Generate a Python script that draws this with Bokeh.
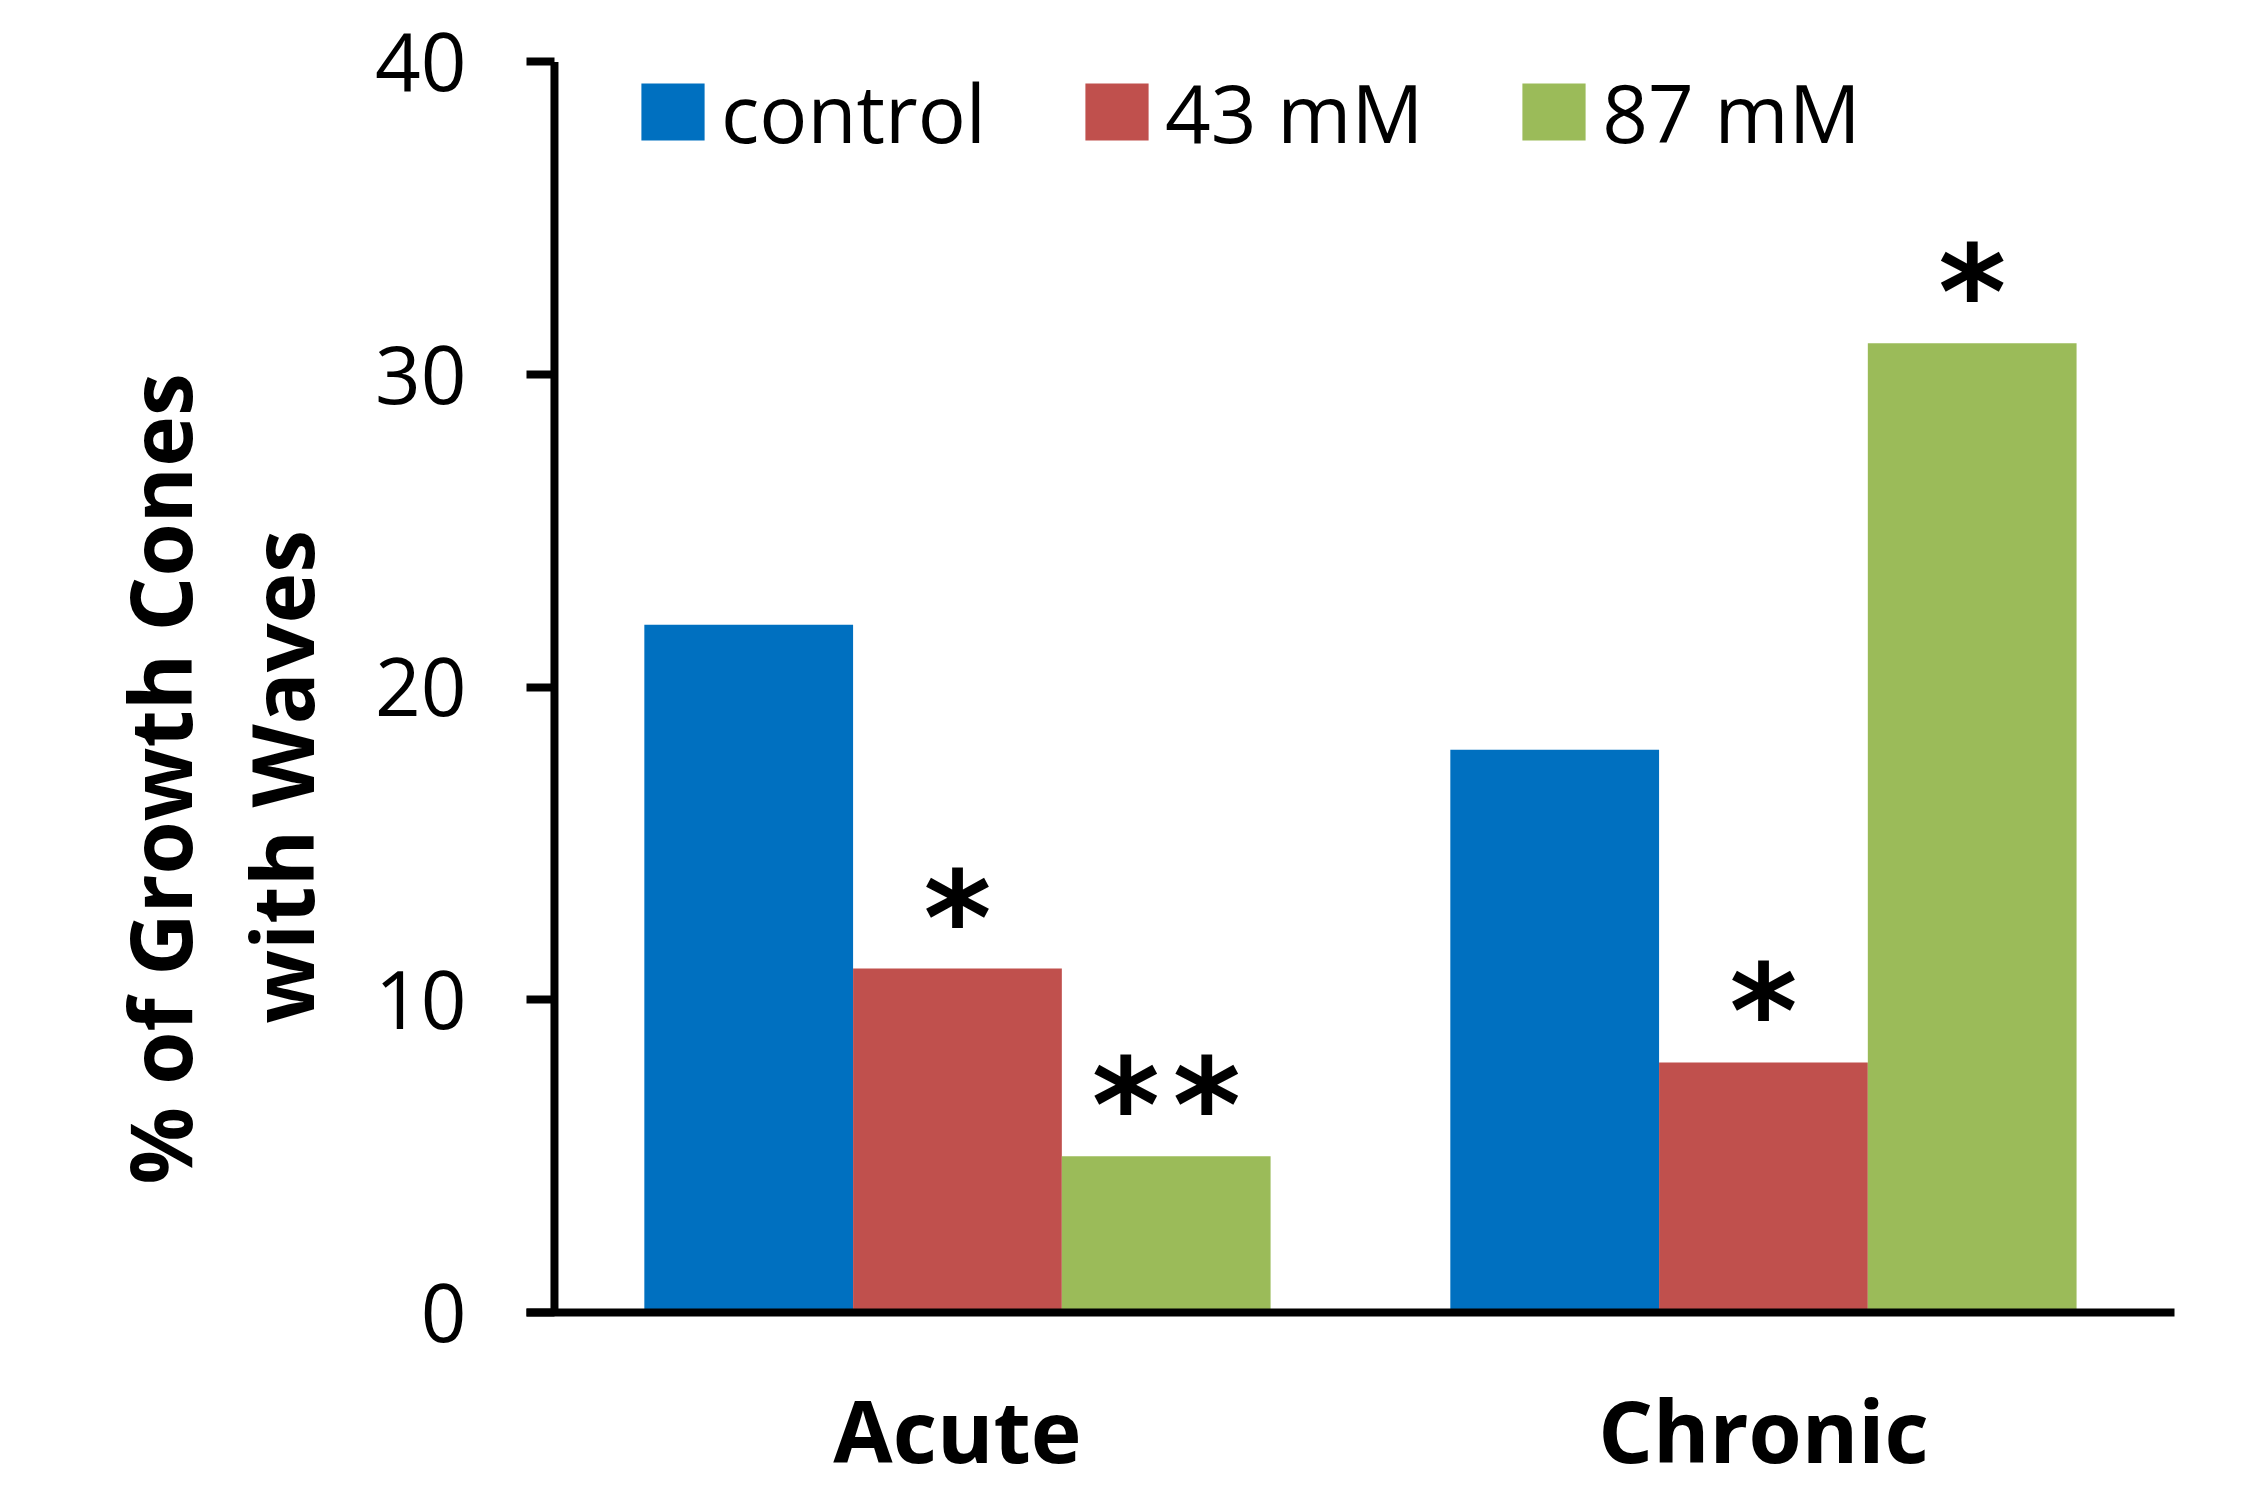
import numpy as np
from bokeh.plotting import figure
from bokeh.models import (Range1d, FixedTicker, Title, Legend, LegendItem,
                          ColumnDataSource)
from bokeh.core.properties import value
from bokeh.embed import file_html
from bokeh.resources import INLINE

# ---- data ----
categories = ["Acute", "Chronic"]
series = ["control", "43 mM", "87 mM"]
control = [22, 18]
mm43 = [11, 8]
mm87 = [5, 31]
marks_control = ["", ""]
marks_43 = ["*", "*"]
marks_87 = ["**", "*"]
y_ticks = [0, 10, 20, 30, 40]
y_title = ["% of Growth Cones", "with Waves"]
colors = ["#0070C0", "#C0504D", "#9BBB59"]

values = [control, mm43, mm87]
marks = [marks_control, marks_43, marks_87]

FONT = "Open Sans"
W, H = 2227, 1490
p = figure(width=W, height=H, output_backend="svg", toolbar_location=None,
           x_range=Range1d(-0.0347, 2.01), y_range=Range1d(0, 40.3),
           min_border_left=526, min_border_right=53,
           min_border_top=52, min_border_bottom=176)
p.outline_line_color = None
p.xgrid.visible = False
p.ygrid.visible = False
p.background_fill_color = "white"
p.border_fill_color = "white"

bar_w = 0.259
renderers = []
for k, (name, vals, col, mk) in enumerate(zip(series, values, colors, marks)):
    xs = [i + 0.5 + (k - 1) * bar_w for i in range(len(categories))]
    shown = [m.replace("**", "*\u200a*") for m in mk]
    src = ColumnDataSource(dict(x=xs, top=vals, mark=shown))
    r = p.vbar(x="x", top="top", bottom=0, width=bar_w, source=src,
               fill_color=col, line_color=None)
    renderers.append(r)
    p.text(x="x", y="top", text="mark", source=src,
           text_font=value("DejaVu Sans"), text_font_style="bold",
           text_font_size="130px", text_align="center",
           text_baseline="alphabetic", y_offset=-50, text_color="black")

# y axis line from first to last tick
p.segment(x0=[0], y0=[y_ticks[0]], x1=[0], y1=[y_ticks[-1]],
          line_color="black", line_width=8)

# x axis
xa = p.xaxis[0]
xa.ticker = FixedTicker(ticks=[i + 0.5 for i in range(len(categories))])
xa.major_label_overrides = {i + 0.5: c for i, c in enumerate(categories)}
xa.axis_line_width = 8
xa.axis_line_color = "black"
xa.major_tick_in = 0
xa.major_tick_out = 0
xa.minor_tick_line_color = None
xa.major_label_standoff = 58
xa.major_label_text_font = FONT
xa.major_label_text_font_style = "bold"
xa.major_label_text_font_size = "86px"
xa.major_label_text_color = "black"

# y axis
ya = p.yaxis[0]
ya.ticker = FixedTicker(ticks=y_ticks)
ya.axis_line_color = None
ya.major_tick_in = 28
ya.major_tick_out = 0
ya.major_tick_line_width = 8
ya.major_tick_line_color = "black"
ya.minor_tick_line_color = None
ya.major_label_standoff = 60
ya.major_label_text_font = FONT
ya.major_label_text_font_size = "80px"
ya.major_label_text_color = "black"
# blank axis label used only as a gap before the two-line title
ya.axis_label = " "
ya.axis_label_standoff = 11
ya.axis_label_text_font_size = "16px"
ya.axis_label_text_color = "white"

# y title (two lines, as side titles)
for txt, off, so in zip(y_title[::-1], [289, 128], [6, 0]):
    p.add_layout(Title(text=txt, align="left", offset=off, standoff=so,
                       text_font=FONT, text_font_style="bold",
                       text_font_size="86px", text_color="black"), "left")

legend = Legend(items=[LegendItem(label=n, renderers=[r]) for n, r in zip(series, renderers)],
                orientation="horizontal", location=(107, 1146),
                glyph_width=79, glyph_height=71, label_standoff=9, spacing=91,
                padding=0, margin=0, label_text_font=FONT,
                label_text_font_size="80px", label_text_color="black",
                background_fill_alpha=0, border_line_color=None)
p.add_layout(legend)

open("out.html", "w").write(file_html(p, INLINE))
